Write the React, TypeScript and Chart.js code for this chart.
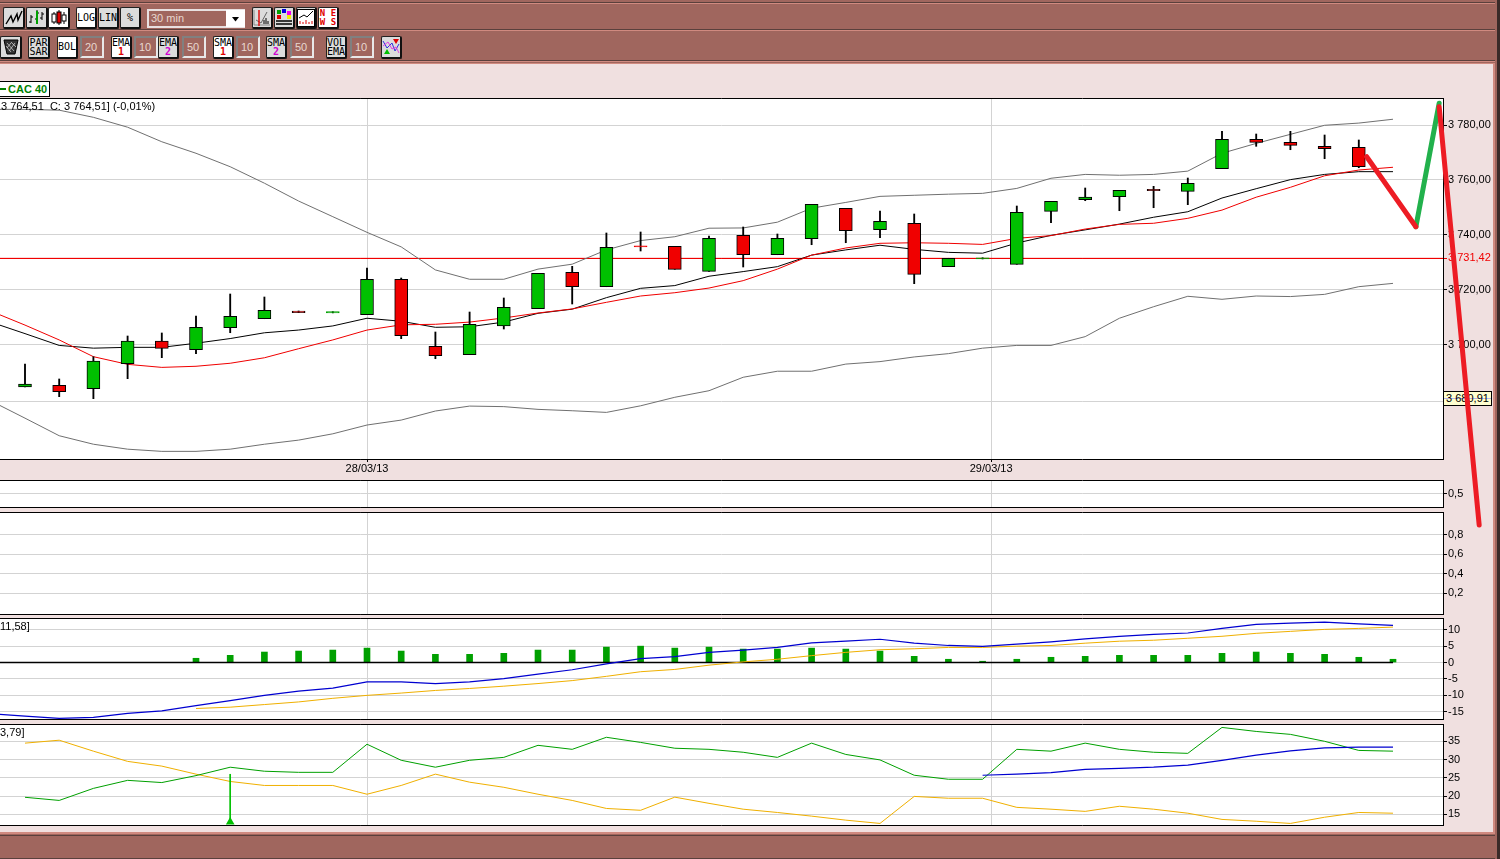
import React, { useEffect, useRef } from "react";
import { Chart, registerables } from "chart.js";

Chart.register(...registerables);

// ---------- price panel data (candle index 0..39) ----------
const opens = [3684.55, 3685.17, 3683.93, 3693.04, 3701.31, 3698.14, 3706.16, 3709.43, 3712.24, 3711.55, 3710.89, 3723.79, 3699.38, 3696.32, 3706.78, 3713.08, 3726.34, 3721.09, 3735.98, 3735.81, 3726.7, 3739.82, 3732.75, 3738.58, 3749.65, 3741.86, 3744.19, 3728.38, 3731.2, 3729.25, 3748.56, 3752.79, 3753.88, 3756.58, 3755.85, 3764.08, 3774.79, 3773.7, 3772.24, 3771.88];
const closes = [3685.65, 3682.84, 3694.03, 3701.31, 3698.65, 3706.3, 3710.31, 3712.49, 3711.62, 3712.0, 3723.79, 3703.24, 3695.96, 3707.4, 3713.59, 3725.97, 3721.09, 3735.45, 3735.55, 3727.43, 3738.72, 3732.75, 3738.72, 3751.11, 3741.49, 3744.92, 3725.61, 3731.44, 3731.65, 3748.2, 3752.2, 3753.77, 3756.21, 3756.07, 3758.76, 3774.79, 3773.7, 3772.6, 3771.37, 3764.81];
const highs = [3692.93, 3687.47, 3695.59, 3703.13, 3704.23, 3710.42, 3718.43, 3717.34, 3712.24, 3712.0, 3727.91, 3724.26, 3704.59, 3711.87, 3716.98, 3725.97, 3728.52, 3740.66, 3741.02, 3735.81, 3739.56, 3742.84, 3740.29, 3751.11, 3749.65, 3748.67, 3747.58, 3731.44, 3731.65, 3750.49, 3752.2, 3757.05, 3756.21, 3757.67, 3760.69, 3777.7, 3776.72, 3777.7, 3776.36, 3774.54];
const lows = [3684.55, 3681.02, 3680.29, 3687.58, 3695.23, 3696.68, 3704.33, 3709.43, 3711.62, 3711.55, 3710.89, 3702.15, 3694.86, 3696.32, 3705.68, 3713.08, 3714.79, 3721.09, 3734.1, 3727.43, 3726.7, 3728.27, 3732.75, 3736.39, 3737.12, 3738.94, 3722.19, 3728.38, 3731.2, 3729.25, 3744.41, 3752.42, 3748.78, 3749.87, 3750.97, 3764.08, 3772.24, 3771.0, 3767.72, 3764.44];

// indicator lines, first value sits at index -1, the last at index 40
const bollUpper = [3785.7, 3785.7, 3785.4, 3782.8, 3779.2, 3773.9, 3769.7, 3764.8, 3758.8, 3752.3, 3746.6, 3740.9, 3735.6, 3727.2, 3723.8, 3723.8, 3727.5, 3729.3, 3734.5, 3737.9, 3739.3, 3742.4, 3742.5, 3744.6, 3749.7, 3751.8, 3754.0, 3754.4, 3754.8, 3755.1, 3756.9, 3760.6, 3762.0, 3761.7, 3762.0, 3763.2, 3769.7, 3773.3, 3776.6, 3779.9, 3780.7, 3782.1];
const bollLower = [3679.5, 3673.2, 3666.8, 3663.7, 3661.9, 3661.1, 3661.1, 3661.9, 3663.7, 3665.2, 3667.5, 3670.7, 3672.5, 3675.8, 3677.6, 3677.4, 3676.4, 3675.9, 3675.3, 3677.7, 3680.8, 3683.2, 3688.1, 3690.3, 3690.3, 3692.9, 3693.8, 3695.5, 3696.7, 3698.7, 3699.7, 3699.7, 3702.9, 3709.6, 3713.8, 3717.6, 3716.5, 3717.7, 3717.5, 3718.3, 3721.1, 3722.3];
const avgBlack = [3708.2, 3704.0, 3699.7, 3698.7, 3699.0, 3699.0, 3700.5, 3702.2, 3704.3, 3705.3, 3706.8, 3709.6, 3708.5, 3706.3, 3706.5, 3708.2, 3711.4, 3712.9, 3717.1, 3720.5, 3721.5, 3724.9, 3726.6, 3728.4, 3732.6, 3734.5, 3736.2, 3734.7, 3733.6, 3733.3, 3737.0, 3739.8, 3741.8, 3743.9, 3746.4, 3748.4, 3753.4, 3756.8, 3760.1, 3762.0, 3763.0, 3763.0];
const avgRed = [3712.2, 3707.1, 3701.7, 3695.6, 3692.8, 3691.7, 3692.1, 3693.2, 3695.2, 3698.5, 3701.7, 3705.3, 3707.2, 3707.4, 3708.2, 3709.7, 3711.5, 3713.0, 3715.4, 3717.7, 3718.9, 3720.6, 3723.3, 3727.5, 3732.6, 3735.2, 3736.9, 3737.1, 3736.9, 3736.5, 3738.7, 3739.7, 3742.1, 3743.8, 3744.2, 3746.0, 3749.0, 3753.7, 3757.3, 3761.5, 3763.6, 3764.6];

const refPrice = 3731.42;
const cursorPrice = "3 680,91";
const priceTicks = [3780, 3760, 3740, refPrice, 3720, 3700, 3679.2];
const labelledPriceTicks = [3780, 3760, 3740, refPrice, 3720, 3700];
const dateTickIdx = [10, 28.25];
const dateTickLabels = ["28/03/13", "29/03/13"];

// ---------- hand-drawn pen strokes over the price scale ----------
const penIdx = [39.23, 40.67, 41.35, 42.52];
const penPrice = [3768.45, 3742.95, 3787.9, 3634.3];
const penPriceTop = 3786.67;

// ---------- small empty panels ----------
const panel2Ticks = [0.5];
const panel3Ticks = [0.8, 0.6, 0.4, 0.2];

// ---------- MACD panel ----------
const macdTicks = [10, 5, 0, -5, -10, -15];
const macdLine = [-15.6, -16.3, -17, -16.7, -15.5, -14.7, -13.1, -11.6, -10, -8.7, -7.8, -5.9, -5.9, -6.4, -5.9, -4.9, -3.5, -2.2, -0.4, 1.2, 1.8, 3.1, 3.8, 4.6, 6, 6.5, 7.1, 5.9, 5.2, 4.9, 5.6, 6.3, 7.2, 8, 8.6, 9, 10.4, 11.6, 12, 12.3, 11.8, 11.3];
// signal and histogram start at index 5
const macdSignal = [-14, -13.6, -12.8, -12, -10.9, -10, -9.3, -8.5, -7.9, -7.2, -6.4, -5.5, -4.2, -2.8, -2.1, -0.8, 0.2, 1, 2.1, 3.1, 3.9, 4.2, 4.6, 4.6, 5, 5.2, 5.9, 6.5, 6.8, 7.4, 8, 8.9, 9.5, 10.1, 10.4, 10.8];
const macdHist = [1.3, 2.2, 3.2, 3.5, 3.8, 4.4, 3.5, 2.5, 2.5, 2.8, 3.8, 3.8, 4.7, 5, 4.4, 4.7, 4.1, 4.1, 4.4, 4.1, 3.5, 1.9, 1, 0.4, 1, 1.6, 1.9, 2.2, 2.2, 2.2, 2.8, 3.2, 2.8, 2.5, 1.6, 1];

// ---------- DMI panel (index 0..40; ADX from index 28) ----------
const dmiTicks = [35, 30, 25, 20, 15];
const dmiPlus = [19.66, 18.8, 22.1, 24.3, 23.7, 25.6, 27.9, 26.8, 26.5, 26.5, 34.2, 29.8, 27.9, 29.8, 30.6, 33.9, 32.8, 36.1, 34.7, 33.1, 32.8, 32, 30.6, 34.5, 31.4, 29.9, 25.7, 24.6, 24.6, 32.8, 32.3, 34.5, 32.8, 32, 31.7, 38.8, 37.7, 36.9, 35, 32.5, 32.3];
const dmiMinus = [34.5, 35.3, 32.3, 29.5, 28.2, 26, 24, 22.9, 22.9, 22.9, 20.5, 22.9, 26, 23.8, 22.4, 20.5, 18.8, 16.6, 16.1, 19.7, 18, 16.4, 15.5, 14.5, 13.4, 12.5, 19.9, 19.4, 19.4, 16.9, 16.4, 15.8, 17.2, 16.4, 15.3, 13.6, 13.1, 12.5, 14.2, 15.5, 15.3];
const adxLine = [25.7, 26, 26.4, 27.3, 27.6, 27.9, 28.5, 29.8, 31.2, 32.4, 33.2, 33.4, 33.4];
const signalIdx = 6;
const signalTop = 26.05;
const signalBottom = 12.9;

// ---------- colours ----------
const BROWN = "#A0665E";
const PINK = "#F0E0E0";
const GRID = "#D3D3D3";
const BODY_GREEN = "#00C000";
const BODY_RED = "#F00000";
const LINE_GREEN = "#00A000";
const LINE_ORANGE = "#F0B000";
const LINE_BLUE = "#0000D0";
const LINE_GRAY = "#707070";
const FONT = "'Liberation Sans', Arial, sans-serif";

const fmt2 = (v: number) => v.toFixed(2).replace(/^(\d)(\d{3})/, "$1 $2").replace(".", ",");
const pts = (vals: number[], start: number) => vals.map((y, i) => ({ x: start + i, y }));

const frame = {
  id: "frame",
  beforeDraw(c: any) {
    const a = c.chartArea;
    const g = c.ctx;
    g.save();
    g.fillStyle = "#fff";
    g.fillRect(a.left, a.top, a.right - a.left, a.bottom - a.top);
    g.restore();
  },
  afterDraw(c: any) {
    const a = c.chartArea;
    const g = c.ctx;
    g.save();
    g.strokeStyle = "#000";
    g.lineWidth = 1;
    g.beginPath();
    g.moveTo(a.left, a.top + 0.5);
    g.lineTo(a.right + 0.5, a.top + 0.5);
    g.lineTo(a.right + 0.5, a.bottom + 0.5);
    g.lineTo(a.left, a.bottom + 0.5);
    g.stroke();
    g.restore();
  },
};

const line = (data: any[], color: string, order: number, width = 1) => ({
  type: "line" as const,
  data,
  borderColor: color,
  borderWidth: width,
  pointRadius: 0,
  tension: 0,
  order,
  fill: false,
});

function panelConfig(o: {
  datasets: any[];
  min: number;
  max: number;
  ticks: number[];
  label: (v: number) => string;
  main?: boolean;
}) {
  return {
    type: "bar",
    data: { datasets: o.datasets },
    plugins: [frame],
    options: {
      animation: false,
      responsive: false,
      devicePixelRatio: 1,
      events: [],
      layout: { autoPadding: false, padding: { top: 6, bottom: o.main ? 0 : 6, left: 0, right: 0 } },
      plugins: { legend: { display: false }, tooltip: { enabled: false }, title: { display: false } },
      scales: {
        x: {
          type: "linear",
          offset: false,
          min: -0.731,
          max: 41.462,
          afterBuildTicks: (ax: any) => {
            ax.ticks = dateTickIdx.map((value) => ({ value }));
          },
          afterFit: (ax: any) => {
            ax.height = o.main ? 20 : 0;
            ax.paddingLeft = 0;
            ax.paddingRight = 0;
          },
          border: { display: false },
          grid: { offset: false, color: GRID, lineWidth: 1, drawTicks: !!o.main, tickLength: 3, tickColor: "#000" },
          ticks: {
            display: !!o.main,
            autoSkip: false,
            maxRotation: 0,
            padding: 0,
            color: "#000",
            font: { family: FONT, size: 11 },
            callback: (v: number) => dateTickLabels[dateTickIdx.indexOf(v)] ?? "",
          },
        },
        y: {
          type: "linear",
          position: "right",
          min: o.min,
          max: o.max,
          afterBuildTicks: (ax: any) => {
            ax.ticks = o.ticks.map((value) => ({ value }));
          },
          afterFit: (ax: any) => {
            ax.width = 57;
            ax.paddingTop = 0;
            ax.paddingBottom = 0;
          },
          border: { display: true, color: "#000" },
          grid: {
            color: (c: any) => (c.tick && c.tick.value === refPrice ? "#F00000" : GRID),
            lineWidth: 1,
            tickLength: 4,
            tickColor: (c: any) => (c.tick && c.tick.value === refPrice ? "#F00000" : "#000"),
          },
          ticks: {
            autoSkip: false,
            padding: 1,
            color: (c: any) => (c.tick && c.tick.value === refPrice ? "#F00000" : "#000"),
            font: { family: FONT, size: 11 },
            callback: o.label,
          },
        },
      },
    },
  };
}

const candleIdx = opens.map((_, i) => i);
const isUp = (i: number) => closes[i] >= opens[i];
const isThin = (i: number) => Math.abs(closes[i] - opens[i]) < 0.5;
const bodyFill = (i: number) => (isUp(i) ? (isThin(i) ? LINE_GREEN : BODY_GREEN) : BODY_RED);

const mainDatasets: any[] = [
  {
    type: "bar",
    grouped: false,
    order: 0,
    data: candleIdx.map((i) => ({ x: i, y: [opens[i], closes[i]] })),
    barThickness: 13,
    backgroundColor: candleIdx.map(bodyFill),
    borderColor: candleIdx.map((i) => (isThin(i) ? bodyFill(i) : "#000")),
    borderWidth: 1,
    borderSkipped: false,
  },
  {
    type: "bar",
    grouped: false,
    order: 1,
    data: candleIdx.map((i) => ({ x: i, y: [lows[i], highs[i]] })),
    barThickness: 1.2,
    backgroundColor: "#000",
    borderWidth: 0,
  },
  line(pts(avgRed, -1), "#F00000", 2),
  line(pts(avgBlack, -1), "#000", 3),
  line(pts(bollUpper, -1), LINE_GRAY, 4),
  line(pts(bollLower, -1), LINE_GRAY, 5),
  line([{ x: -1, y: refPrice }, { x: 42, y: refPrice }], "#F00000", 6),
];

const macdDatasets: any[] = [
  {
    type: "bar",
    grouped: false,
    order: 3,
    data: macdHist.map((y, i) => ({ x: i + 5, y: [0, y] })),
    barThickness: 6,
    backgroundColor: LINE_GREEN,
    borderWidth: 0,
  },
  line([{ x: -1, y: 0 }, { x: 40, y: 0 }], "#000", 2, 1.4),
  line(pts(macdSignal, 5), LINE_ORANGE, 1),
  line(pts(macdLine, -1), LINE_BLUE, 0, 1.2),
];

const dmiDatasets: any[] = [
  line(pts(dmiMinus, 0), LINE_ORANGE, 3),
  line(pts(dmiPlus, 0), LINE_GREEN, 2),
  line(pts(adxLine, 28), LINE_BLUE, 1, 1.2),
  {
    ...line([{ x: signalIdx, y: signalTop }, { x: signalIdx, y: signalBottom }], "#00C000", 0),
    pointRadius: [0, 5],
    pointStyle: "triangle",
    pointBackgroundColor: "#00C000",
    pointBorderWidth: 0,
  },
];

const overlayConfig: any = {
  type: "line",
  data: {
    datasets: [
      { data: [{ x: penIdx[1], y: penPrice[1] }, { x: penIdx[2], y: penPrice[2] }], borderColor: "#22B14C", order: 1 },
      { data: [{ x: penIdx[0], y: penPrice[0] }, { x: penIdx[1], y: penPrice[1] }], borderColor: "#ED1C24", order: 0 },
      { data: [{ x: penIdx[2], y: penPriceTop }, { x: penIdx[3], y: penPrice[3] }], borderColor: "#ED1C24", order: 0 },
    ].map((d) => ({ ...d, borderWidth: 5, pointRadius: 0, tension: 0, borderCapStyle: "round", clip: false })),
  },
  options: {
    animation: false,
    responsive: false,
    devicePixelRatio: 1,
    events: [],
    layout: { autoPadding: false },
    plugins: { legend: { display: false }, tooltip: { enabled: false } },
    scales: {
      x: { type: "linear", display: false, min: -0.731, max: 43.129 },
      y: { type: "linear", display: false, min: 3512.6, max: 3825.54 },
    },
  },
};

const panels = [
  {
    top: 98, bottom: 459, main: true,
    cfg: panelConfig({
      datasets: mainDatasets, min: 3658.32, max: 3789.84, ticks: priceTicks, main: true,
      label: (v) => (labelledPriceTicks.includes(v) ? fmt2(v) : ""),
    }),
  },
  {
    top: 480, bottom: 507,
    cfg: panelConfig({ datasets: [], min: 0, max: 1, ticks: panel2Ticks, label: (v) => v.toFixed(1).replace(".", ",") }),
  },
  {
    top: 512, bottom: 614,
    cfg: panelConfig({ datasets: [], min: -0.015, max: 1.036, ticks: panel3Ticks, label: (v) => v.toFixed(1).replace(".", ",") }),
  },
  {
    top: 618, bottom: 719,
    cfg: panelConfig({ datasets: macdDatasets, min: -17.2, max: 13.57, ticks: macdTicks, label: (v) => String(v) }),
  },
  {
    top: 724, bottom: 825,
    cfg: panelConfig({ datasets: dmiDatasets, min: 12.07, max: 39.74, ticks: dmiTicks, label: (v) => String(v) }),
  },
];

// ---------- toolbar ----------
type Box = { x: number; y: number; w: number; h: number };
const abs = (b: Box): React.CSSProperties => ({ position: "absolute", left: b.x, top: b.y, width: b.w, height: b.h, boxSizing: "border-box" });

function Btn({ x, y, w, on, lines, sub, subColor, children }: { x: number; y: number; w: number; on?: boolean; lines?: string[]; sub?: string; subColor?: string; children?: React.ReactNode }) {
  const h = y < 30 ? 22 : 23;
  return (
    <div
      style={{
        ...abs({ x, y, w, h }),
        background: on ? "#fff" : "#DCDCDC",
        borderTop: "1px solid #222",
        borderLeft: "1px solid #222",
        borderRight: "2px solid #111",
        borderBottom: "2px solid #111",
        borderRadius: 2,
        fontFamily: "'DejaVu Sans Mono', monospace",
        fontSize: 10,
        lineHeight: "9.5px",
        color: "#000",
        textAlign: "center",
        display: "flex",
        flexDirection: "column",
        justifyContent: "center",
        overflow: "hidden",
      }}
    >
      {(lines || []).map((t) => (
        <div key={t}>{t}</div>
      ))}
      {sub && <div style={{ color: subColor, fontWeight: 700 }}>{sub}</div>}
      {children}
    </div>
  );
}

function Inp({ x, y, t }: { x: number; y: number; t: string }) {
  return (
    <div
      style={{
        ...abs({ x, y, w: 24, h: 22 }),
        background: BROWN,
        borderTop: "2px solid #808080",
        borderLeft: "2px solid #808080",
        borderRight: "2px solid #E8E8E8",
        borderBottom: "2px solid #E8E8E8",
        color: "#E8D8D0",
        fontFamily: FONT,
        fontSize: 11,
        lineHeight: "18px",
        paddingLeft: 3,
      }}
    >
      {t}
    </div>
  );
}

const Svg = ({ children }: { children: React.ReactNode }) => (
  <svg width="18" height="18" viewBox="0 0 18 18" style={{ display: "block", margin: "0 auto" }}>
    {children}
  </svg>
);

export default function App() {
  const refs = useRef<(HTMLCanvasElement | null)[]>([]);
  const overlay = useRef<HTMLCanvasElement | null>(null);

  useEffect(() => {
    const charts = panels.map((p, i) => new Chart(refs.current[i] as HTMLCanvasElement, p.cfg as any));
    charts.push(new Chart(overlay.current as HTMLCanvasElement, overlayConfig));
    return () => charts.forEach((c) => c.destroy());
  }, []);

  return (
    <div style={{ position: "fixed", left: 0, top: 0, width: 1500, height: 859, overflow: "hidden", background: PINK }}>
      {/* top bars */}
      <div style={{ ...abs({ x: 0, y: 0, w: 1500, h: 64 }), background: BROWN }} />
      <div style={{ ...abs({ x: 0, y: 2, w: 1500, h: 1 }), background: "#5A403C" }} />
      <div style={{ ...abs({ x: 0, y: 3, w: 1500, h: 1 }), background: "#D08A80" }} />
      <div style={{ ...abs({ x: 0, y: 29, w: 1500, h: 1 }), background: "#5A403C" }} />
      <div style={{ ...abs({ x: 0, y: 30, w: 1500, h: 1 }), background: "#D08A80" }} />
      <div style={{ ...abs({ x: 0, y: 60, w: 1500, h: 1 }), background: "#5A403C" }} />
      <div style={{ ...abs({ x: 0, y: 61, w: 1500, h: 1 }), background: "#D08A80" }} />
      <div style={{ ...abs({ x: 0, y: 63, w: 1500, h: 1 }), background: "#D08A80" }} />
      {/* right and bottom frame */}
      <div style={{ ...abs({ x: 1493, y: 64, w: 2, h: 770 }), background: "#D08A80" }} />
      <div style={{ ...abs({ x: 1495, y: 0, w: 2, h: 859 }), background: BROWN }} />
      <div style={{ ...abs({ x: 1497, y: 0, w: 3, h: 859 }), background: "#3A2A28" }} />
      <div style={{ ...abs({ x: 0, y: 832, w: 1495, h: 2 }), background: "#D08A80" }} />
      <div style={{ ...abs({ x: 0, y: 834, w: 1495, h: 25 }), background: BROWN }} />
      <div style={{ ...abs({ x: 0, y: 835, w: 1495, h: 1 }), background: "#5A403C" }} />
      <div style={{ ...abs({ x: 0, y: 858, w: 1495, h: 1 }), background: "#5A403C" }} />

      {/* row 1 */}
      <Btn x={3} y={7} w={22}>
        <Svg><polyline points="1,15 6,7 8,13 12,5 13,11 17,2" fill="none" stroke="#000" strokeWidth="1.4" /></Svg>
      </Btn>
      <Btn x={26} y={7} w={22}>
        <Svg>
          <path d="M3 6V14M1 13H3M5 8H3M9 1V15M9 4H11M7 10H9M14 3V11M12 9H14M16 5H14" stroke="#000" fill="none" />
          <rect x="8" y="2" width="2" height="13" fill="#00A000" />
        </Svg>
      </Btn>
      <Btn x={48} y={7} w={22} on>
        <Svg>
          <path d="M4 3V15M9 1V16M14 3V15" stroke="#000" />
          <rect x="2" y="5" width="4" height="8" fill="#fff" stroke="#000" />
          <rect x="7" y="3" width="4" height="11" fill="#E00000" stroke="#000" />
          <rect x="12" y="6" width="4" height="6" fill="#fff" stroke="#000" />
        </Svg>
      </Btn>
      <Btn x={76} y={7} w={21} on lines={["LOG"]} />
      <Btn x={98} y={7} w={21} lines={["LIN"]} />
      <Btn x={120} y={7} w={21} lines={["%"]} />
      <div style={{ ...abs({ x: 147, y: 9, w: 98, h: 19 }), background: BROWN, border: "2px solid #E8E0E0", color: "#E8D8D0", fontFamily: FONT, fontSize: 11, lineHeight: "15px", paddingLeft: 2 }}>30 min</div>
      <div style={{ ...abs({ x: 226, y: 10, w: 19, h: 17 }), background: "#fff" }} />
      <svg style={{ ...abs({ x: 231, y: 17, w: 9, h: 5 }) }} viewBox="0 0 9 5"><polygon points="1,0 8,0 4.5,4.5" fill="#000" /></svg>
      <Btn x={252} y={7} w={21}>
        <Svg>
          <path d="M1 16H17M1 1V16" stroke="#888" />
          <path d="M3 11L8 14L14 3" stroke="#666" fill="none" />
          <path d="M6 1V17" stroke="#E00000" strokeWidth="1.4" />
          <path d="M11 15V11M13 15V9M15 15V12" stroke="#000" />
        </Svg>
      </Btn>
      <Btn x={274} y={7} w={21}>
        <Svg>
          <rect x="2" y="1" width="4" height="4" fill="#00A000" />
          <rect x="7" y="0" width="4" height="4" fill="#0000E0" />
          <rect x="12" y="2" width="4" height="4" fill="#F000F0" />
          <rect x="2" y="6" width="4" height="4" fill="#E00000" />
          <rect x="12" y="6" width="4" height="4" fill="#F0F000" />
          <path d="M1 12H17M1 15H17" stroke="#000" strokeWidth="1.4" />
        </Svg>
      </Btn>
      <Btn x={296} y={7} w={21}>
        <Svg>
          <rect x="0.5" y="0.5" width="17" height="17" fill="#fff" stroke="#000" />
          <polyline points="2,9 7,6 10,8 16,2" fill="none" stroke="#000" />
          <path d="M3 15V12M6 15V13M9 15V11M12 15V13M15 15V12" stroke="#E00000" />
        </Svg>
      </Btn>
      <Btn x={318} y={7} w={21} on lines={[]}>
        <div style={{ color: "#E00000", fontSize: 9, lineHeight: "8.5px", fontWeight: 700 }}>
          <div>N E</div>
          <div>W S</div>
        </div>
      </Btn>

      {/* row 2 */}
      <Btn x={0} y={36} w={22}>
        <Svg>
          <polygon points="2,2 16,2 13,16 5,16" fill="#333" stroke="#000" />
          <path d="M5 5L12 13M9 4L14 9M4 8L9 14M13 5L7 13M9 5L5 10" stroke="#ddd" strokeWidth="0.7" />
        </Svg>
      </Btn>
      <Btn x={28} y={36} w={22} lines={["PAR", "SAR"]} />
      <Btn x={57} y={36} w={21} on lines={["BOL"]} />
      <Inp x={80} y={36} t="20" />
      <Btn x={111} y={36} w={21} on lines={["EMA"]} sub="1" subColor="#E00000" />
      <Inp x={134} y={36} t="10" />
      <Btn x={158} y={36} w={21} lines={["EMA"]} sub="2" subColor="#D000D0" />
      <Inp x={182} y={36} t="50" />
      <Btn x={213} y={36} w={21} on lines={["SMA"]} sub="1" subColor="#E00000" />
      <Inp x={236} y={36} t="10" />
      <Btn x={266} y={36} w={21} lines={["SMA"]} sub="2" subColor="#D000D0" />
      <Inp x={290} y={36} t="50" />
      <Btn x={326} y={36} w={21} lines={["VOL", "EMA"]} />
      <Inp x={350} y={36} t="10" />
      <Btn x={381} y={36} w={21}>
        <Svg>
          <polygon points="11,1 17,1 14,6" fill="#E00000" />
          <polygon points="2,16 8,16 5,11" fill="#00C000" />
          <polyline points="1,3 5,10 10,5 13,13 17,6" fill="none" stroke="#3030E0" />
          <polyline points="1,8 6,4 10,11 14,9 17,15" fill="none" stroke="#E040E0" />
        </Svg>
      </Btn>

      {/* legend */}
      <div style={{ ...abs({ x: -1, y: 81, w: 51, h: 16 }), background: "#fff", border: "1px solid #000", color: "#008000", fontFamily: FONT, fontWeight: 700, fontSize: 11, lineHeight: "14px", paddingLeft: 8, whiteSpace: "nowrap" }}>
        <div style={{ position: "absolute", left: 0, top: 6, width: 6, height: 2, background: "#008000" }} />
        CAC 40
      </div>

      {/* charts */}
      {panels.map((p, i) => (
        <canvas
          key={i}
          ref={(el) => {
            refs.current[i] = el;
          }}
          width={1500}
          height={p.bottom - p.top + 6 + (p.main ? 20 : 6)}
          style={{ position: "absolute", left: 0, top: p.top - 6, display: "block" }}
        />
      ))}

      {/* value read-outs */}
      <div style={{ position: "absolute", left: 1, top: 100, fontFamily: FONT, fontSize: 11, lineHeight: "13px", whiteSpace: "pre", color: "#000" }}>{"3 764,51  C: 3 764,51] (-0,01%)"}</div>
      <div style={{ position: "absolute", left: 0, top: 620, fontFamily: FONT, fontSize: 11, lineHeight: "13px", color: "#000" }}>11,58]</div>
      <div style={{ position: "absolute", left: 0, top: 726, fontFamily: FONT, fontSize: 11, lineHeight: "13px", color: "#000" }}>3,79]</div>
      <div style={{ ...abs({ x: 1443, y: 391, w: 49, h: 15 }), background: "#FFFFD0", border: "1px solid #000", fontFamily: FONT, fontSize: 11, lineHeight: "13px", textAlign: "center", color: "#000" }}>
        <div style={{ position: "absolute", left: 0, right: 0, top: 6, height: 1, background: "#B8B8E8" }} />
        <span style={{ position: "relative" }}>{cursorPrice}</span>
      </div>

      <canvas ref={overlay} width={1500} height={859} style={{ position: "absolute", left: 0, top: 0, display: "block", pointerEvents: "none" }} />
    </div>
  );
}
